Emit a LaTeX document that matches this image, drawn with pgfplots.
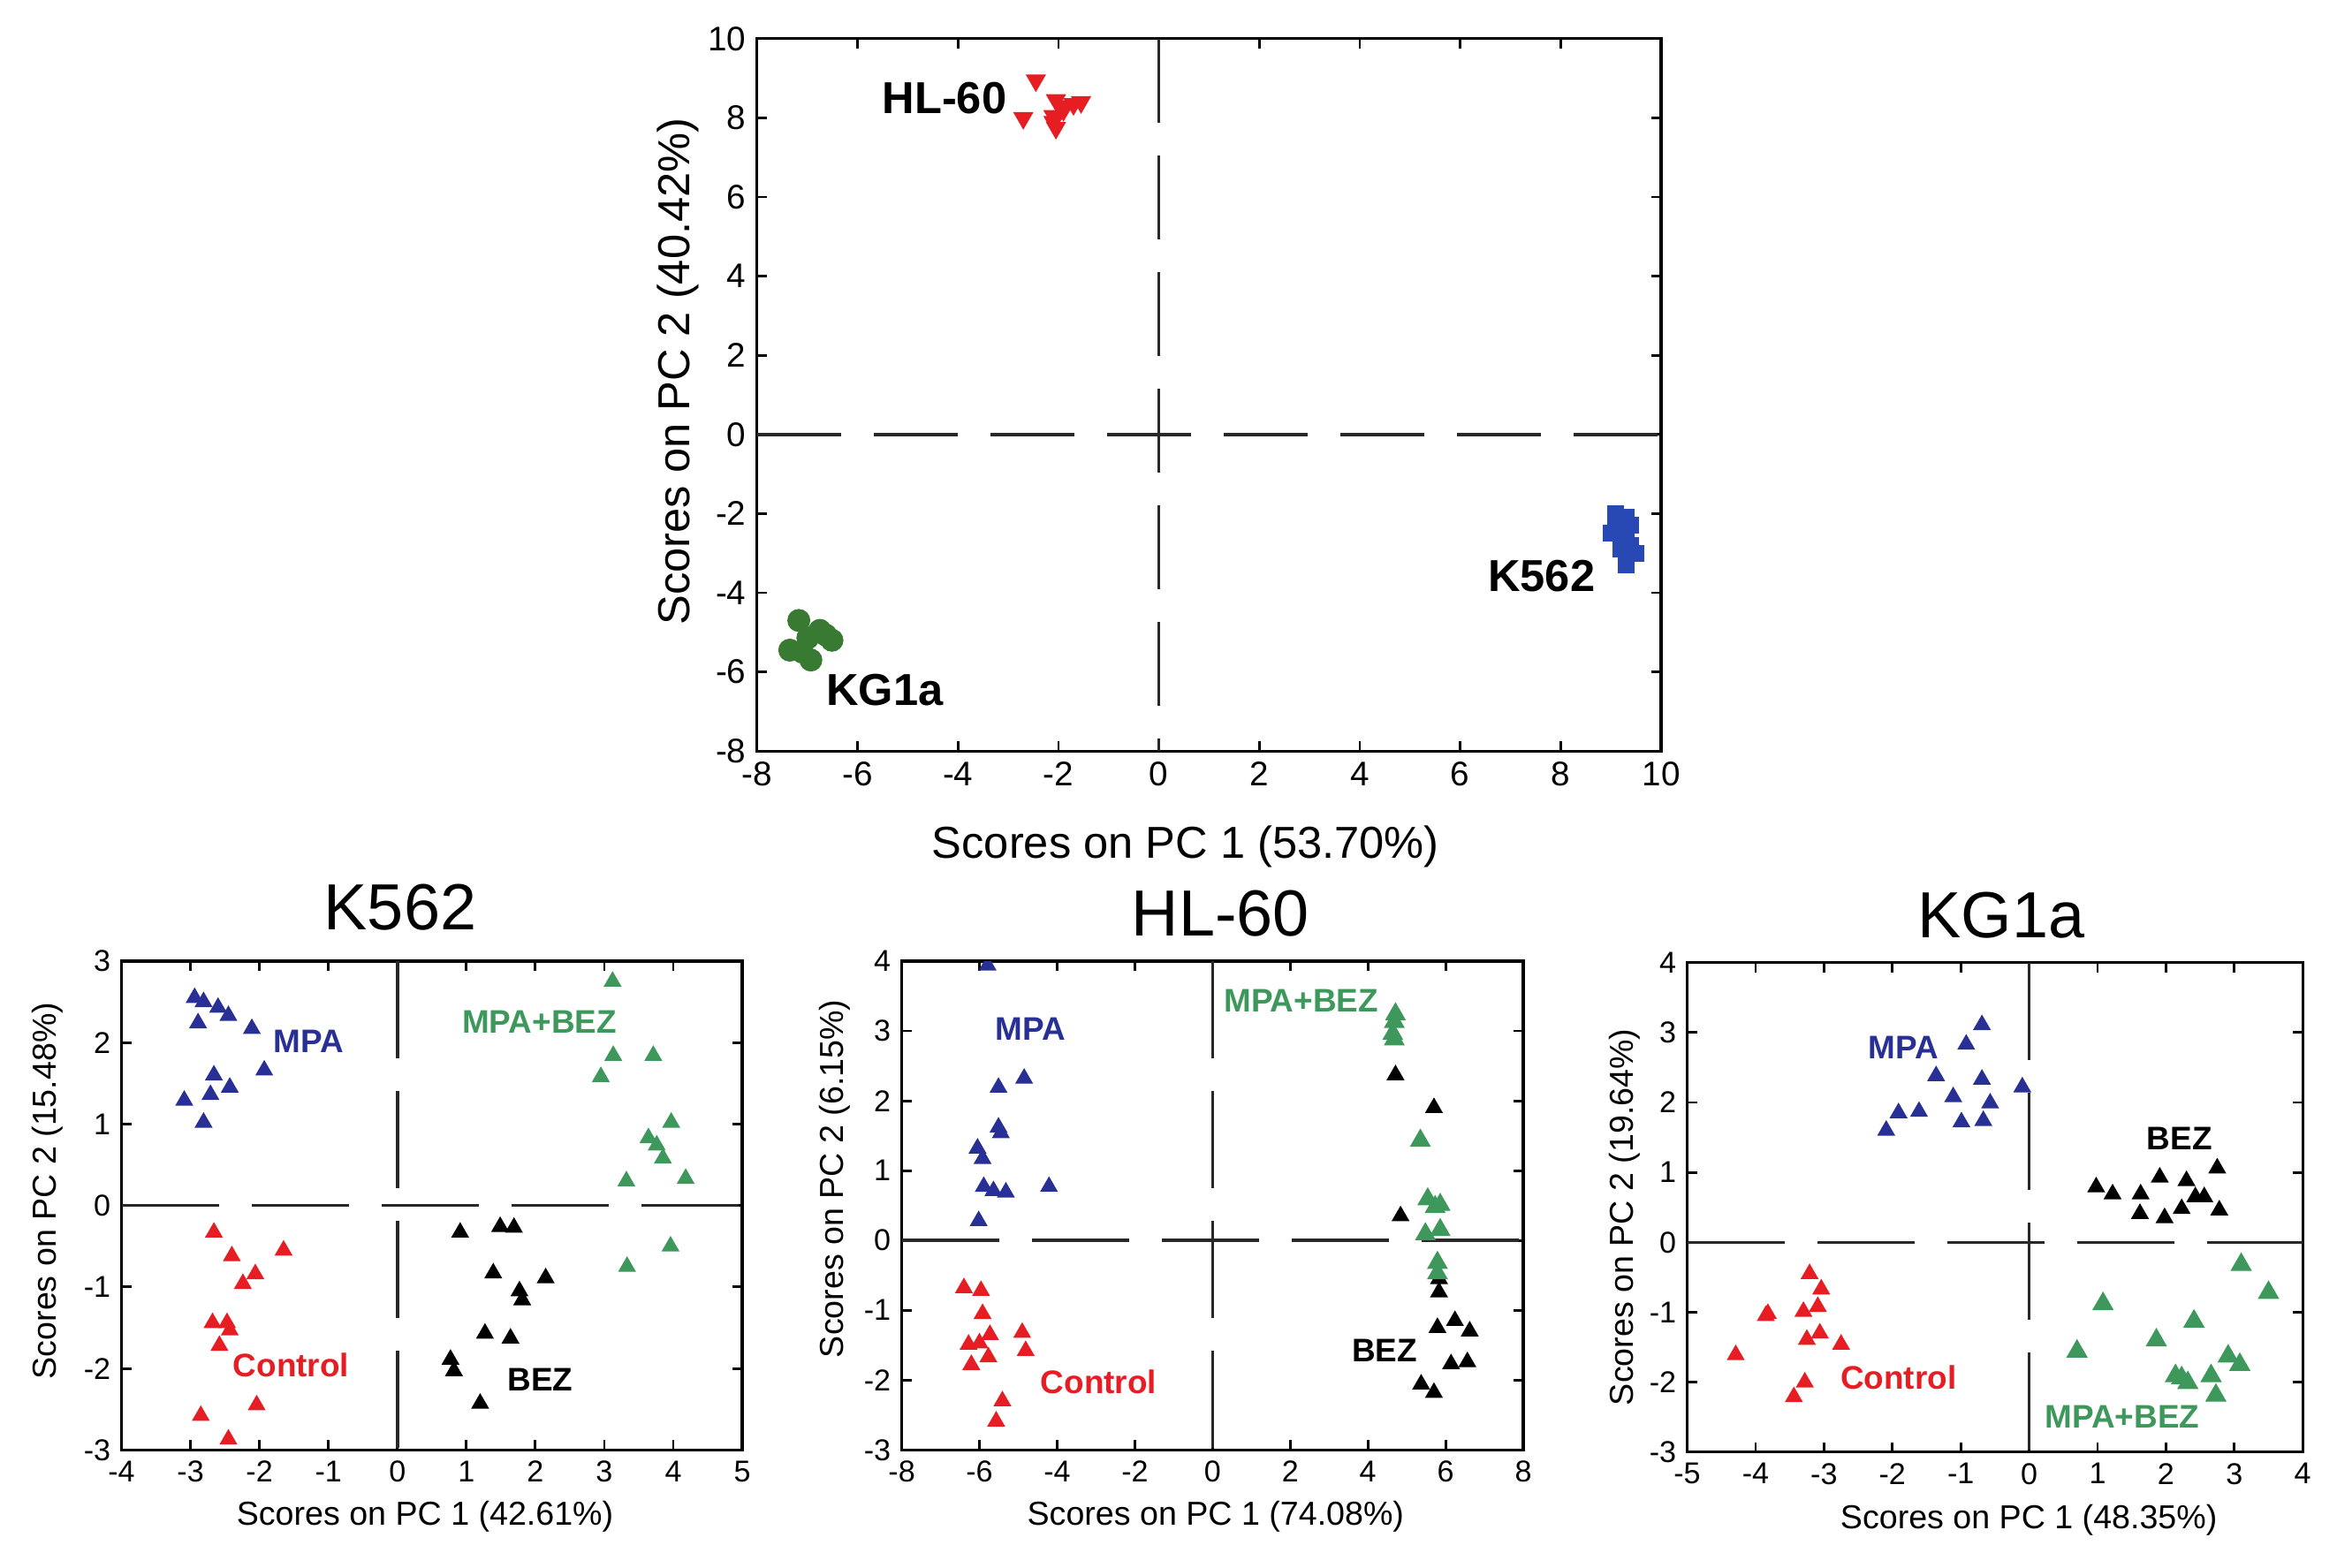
\documentclass[border=0pt]{standalone}
\usepackage{fontspec}
\setmainfont{Liberation Sans}
\usepackage{pgfplots}
\pgfplotsset{compat=1.18}
\definecolor{myred}{RGB}{230,30,36}
\definecolor{myblue}{RGB}{40,48,150}
\definecolor{sqblue}{RGB}{40,72,180}
\definecolor{dkgreen}{RGB}{56,122,50}
\definecolor{mygreen}{RGB}{62,152,92}
\definecolor{lingray}{RGB}{40,40,40}
\tikzset{lab/.style={font=\fontsize{10.5}{12}\selectfont\bfseries},
  biglab/.style={font=\fontsize{14.4}{17}\selectfont\bfseries}}
\begin{document}
\begin{tikzpicture}
\path[use as bounding box] (0,0) rectangle (26.45cm,17.74cm);
\pgfplotsset{
  every axis title/.style={font=\fontsize{21}{25}\selectfont},
  pca/.style={scale only axis, anchor=south west, axis line style={line width=0.9pt},
    xtick pos=both, ytick pos=both, xticklabel pos=lower, yticklabel pos=left,
    tick align=inside, major tick length=0.11cm, tick style={line width=0.8pt,black},
    /pgf/number format/assume math mode=true,
    clip marker paths=true},
  grp/.style={only marks, mark=triangle*, mark size=2.95pt, mark options={solid}},
  zl/.style={lingray, line width=1pt, dash pattern=on 1.1cm off 0.37cm, forget plot},
  bt/.style={tick label style={font=\fontsize{9.7}{11}\selectfont},
    label style={font=\fontsize{10.7}{12}\selectfont}},
}
% ---------------- Top overview ----------------
\begin{axis}[pca, at={(8.569cm,9.238cm)}, width=10.231cm, height=8.063cm,
  xmin=-8, xmax=10, ymin=-8, ymax=10,
  xtick={-8,-6,...,10}, ytick={-8,-6,...,10},
  tick label style={font=\fontsize{11}{13}\selectfont},
  label style={font=\fontsize{14.4}{17}\selectfont},
  xlabel={Scores on PC 1 (53.70\%)}, ylabel={Scores on PC 2 (40.42\%)},
  xlabel style={at={(axis description cs:0.474,-0.134)}, anchor=center},
  ylabel style={at={(axis description cs:-0.087,0.533)}, anchor=center}]
\addplot[zl, dash pattern=on 0.95cm off 0.37cm] coordinates {(-8,0) (10,0)};
\addplot[zl, dash pattern=on 0.95cm off 0.37cm] coordinates {(0,10) (0,-8)};
\addplot[only marks, mark=triangle*, mark size=3.4pt, color=myred, mark options={rotate=180}]
  coordinates {(-2.45,8.95) (-2.7,8.0) (-2.05,8.45) (-1.7,8.35) (-1.55,8.4) (-1.9,8.2)
  (-2.1,8.05) (-2.05,7.75) (-1.95,8.3) (-2.1,7.9)};
\addplot[only marks, mark=square*, mark size=2.5pt, color=sqblue]
  coordinates {(9.1,-2.0) (9.3,-2.1) (9.15,-2.4) (9.0,-2.5) (9.3,-2.6) (9.4,-2.8)
  (9.5,-3.0) (9.2,-2.9) (9.3,-3.3) (9.1,-2.2) (9.4,-2.3)};
\addplot[only marks, mark=*, mark size=3.5pt, color=dkgreen]
  coordinates {(-7.17,-4.7) (-7.35,-5.45) (-6.93,-5.7) (-6.51,-5.2) (-6.75,-4.95)
  (-6.99,-5.14) (-6.63,-5.07) (-7.1,-5.5)};
\node[biglab] at (axis cs:-4.27,8.5) {HL-60};
\node[biglab] at (axis cs:7.62,-3.57) {K562};
\node[biglab] at (axis cs:-5.46,-6.45) {KG1a};
\end{axis}
% ---------------- K562 ----------------
\begin{axis}[pca, bt, at={(1.375cm,1.327cm)}, width=7.026cm, height=5.533cm,
  xmin=-4, xmax=5, ymin=-3, ymax=3, xtick={-4,...,5}, ytick={-3,...,3},
  title={K562}, title style={at={(axis description cs:0.449,1.11)}, anchor=center},
  xlabel={Scores on PC 1 (42.61\%)}, ylabel={Scores on PC 2 (15.48\%)},
  xlabel style={at={(axis description cs:0.489,-0.137)}, anchor=center},
  ylabel style={at={(axis description cs:-0.119,0.53)}, anchor=center}]
\addplot[zl] coordinates {(-4,0) (5,0)};
\addplot[zl] coordinates {(0,3) (0,-3)};
\addplot[grp, color=myblue] coordinates {(-2.94,2.55) (-2.81,2.50) (-2.60,2.43) (-2.45,2.33)
  (-2.89,2.24) (-2.11,2.17) (-1.93,1.66) (-2.66,1.60) (-2.43,1.45) (-2.71,1.36) (-3.09,1.29) (-2.81,1.02)};
\addplot[grp, color=myred] coordinates {(-2.66,-0.33) (-2.40,-0.62) (-1.65,-0.55) (-2.06,-0.84)
  (-2.24,-0.96) (-2.68,-1.44) (-2.47,-1.44) (-2.43,-1.53) (-2.58,-1.72) (-2.85,-2.58) (-2.04,-2.45) (-2.45,-2.87)};
\addplot[grp, color=black] coordinates {(0.91,-0.33) (1.49,-0.26) (1.69,-0.27) (1.39,-0.83)
  (2.15,-0.89) (1.77,-1.05) (1.81,-1.16) (1.27,-1.57) (1.64,-1.63) (0.77,-1.89) (0.82,-2.03) (1.20,-2.43)};
\addplot[grp, color=mygreen] coordinates {(3.12,2.75) (3.13,1.84) (3.71,1.84) (2.95,1.58)
  (3.97,1.02) (3.64,0.83) (3.76,0.74) (3.85,0.58) (3.32,0.30) (4.18,0.33) (3.96,-0.50) (3.33,-0.75)};
\node[lab, text=myblue] at (axis cs:-1.29,2.02) {MPA};
\node[lab, text=mygreen] at (axis cs:2.06,2.25) {MPA+BEZ};
\node[lab, text=myred] at (axis cs:-1.54,-1.96) {Control};
\node[lab, text=black] at (axis cs:2.07,-2.14) {BEZ};
\end{axis}
% ---------------- HL-60 ----------------
\begin{axis}[pca, bt, at={(10.206cm,1.327cm)}, width=7.034cm, height=5.533cm,
  xmin=-8, xmax=8, ymin=-3, ymax=4, xtick={-8,-6,...,8}, ytick={-3,...,4},
  title={HL-60}, title style={at={(axis description cs:0.513,1.097)}, anchor=center},
  xlabel={Scores on PC 1 (74.08\%)}, ylabel={Scores on PC 2 (6.15\%)},
  xlabel style={at={(axis description cs:0.505,-0.137)}, anchor=center},
  ylabel style={at={(axis description cs:-0.108,0.555)}, anchor=center}]
\addplot[zl] coordinates {(-8,0) (8,0)};
\addplot[zl] coordinates {(0,4) (0,-3)};
\addplot[grp, color=myblue] coordinates {(-5.79,3.94) (-4.85,2.32) (-5.51,2.19) (-5.51,1.62)
  (-5.45,1.54) (-6.05,1.32) (-5.92,1.17) (-5.89,0.77) (-5.64,0.71) (-5.32,0.69) (-4.21,0.77) (-6.02,0.28)};
\addplot[grp, color=myred] coordinates {(-6.40,-0.68) (-5.96,-0.72) (-5.92,-1.05) (-5.73,-1.35)
  (-4.90,-1.32) (-6.28,-1.49) (-6.00,-1.47) (-5.77,-1.67) (-4.81,-1.58) (-6.21,-1.78) (-5.41,-2.30) (-5.57,-2.59)};
\addplot[grp, color=black] coordinates {(4.71,2.37) (5.70,1.90) (4.84,0.35) (5.83,-0.55)
  (5.83,-0.74) (5.79,-1.25) (6.24,-1.15) (6.62,-1.30) (6.14,-1.77) (6.56,-1.74) (5.37,-2.06) (5.70,-2.18)};
\addplot[grp, mark size=3.5pt, color=mygreen] coordinates {(4.71,3.24) (4.68,3.13) (4.64,2.96) (4.68,2.88)
  (5.35,1.43) (5.54,0.59) (5.86,0.51) (5.73,0.48) (5.48,0.09) (5.86,0.15) (5.79,-0.32) (5.79,-0.47)};
\node[lab, text=myblue] at (axis cs:-4.68,3.03) {MPA};
\node[lab, text=mygreen] at (axis cs:2.28,3.44) {MPA+BEZ};
\node[lab, text=myred] at (axis cs:-2.93,-2.02) {Control};
\node[lab, text=black] at (axis cs:4.43,-1.58) {BEZ};
\end{axis}
% ---------------- KG1a ----------------
\begin{axis}[pca, bt, at={(19.095cm,1.302cm)}, width=6.967cm, height=5.541cm,
  xmin=-5, xmax=4, ymin=-3, ymax=4, xtick={-5,...,4}, ytick={-3,...,4},
  title={KG1a}, title style={at={(axis description cs:0.51,1.096)}, anchor=center},
  xlabel={Scores on PC 1 (48.35\%)}, ylabel={Scores on PC 2 (19.64\%)},
  xlabel style={at={(axis description cs:0.555,-0.139)}, anchor=center},
  ylabel style={at={(axis description cs:-0.102,0.48)}, anchor=center}]
\addplot[zl] coordinates {(-5,0) (4,0)};
\addplot[zl] coordinates {(0,4) (0,-3)};
\addplot[grp, color=myblue] coordinates {(-0.69,3.11) (-0.92,2.83) (-1.36,2.38) (-0.69,2.33)
  (-0.10,2.22) (-1.11,2.08) (-0.57,1.99) (-1.91,1.85) (-1.61,1.87) (-0.99,1.72) (-0.67,1.74) (-2.09,1.60)};
\addplot[grp, color=black] coordinates {(2.75,1.06) (1.91,0.93) (2.30,0.88) (0.98,0.79)
  (1.22,0.69) (1.63,0.69) (2.43,0.65) (2.56,0.65) (1.62,0.41) (2.23,0.48) (2.78,0.46) (1.98,0.35)};
\addplot[grp, color=myred] coordinates {(-3.21,-0.45) (-3.04,-0.67) (-3.09,-0.92) (-3.30,-0.99)
  (-3.82,-1.02) (-3.85,-1.05) (-3.06,-1.30) (-3.25,-1.39) (-2.75,-1.46) (-4.29,-1.61) (-3.28,-2.00) (-3.44,-2.21)};
\addplot[grp, mark size=3.6pt, color=mygreen] coordinates {(3.10,-0.32) (3.50,-0.72) (1.08,-0.88) (2.41,-1.13)
  (1.86,-1.40) (0.70,-1.56) (2.91,-1.63) (3.08,-1.75) (2.14,-1.91) (2.32,-2.01) (2.66,-1.91) (2.73,-2.19) (2.23,-1.94)};
\node[lab, text=myblue] at (axis cs:-1.84,2.78) {MPA};
\node[lab, text=black] at (axis cs:2.20,1.49) {BEZ};
\node[lab, text=myred] at (axis cs:-1.91,-1.93) {Control};
\node[lab, text=mygreen] at (axis cs:1.36,-2.50) {MPA+BEZ};
\end{axis}
\end{tikzpicture}
\end{document}
